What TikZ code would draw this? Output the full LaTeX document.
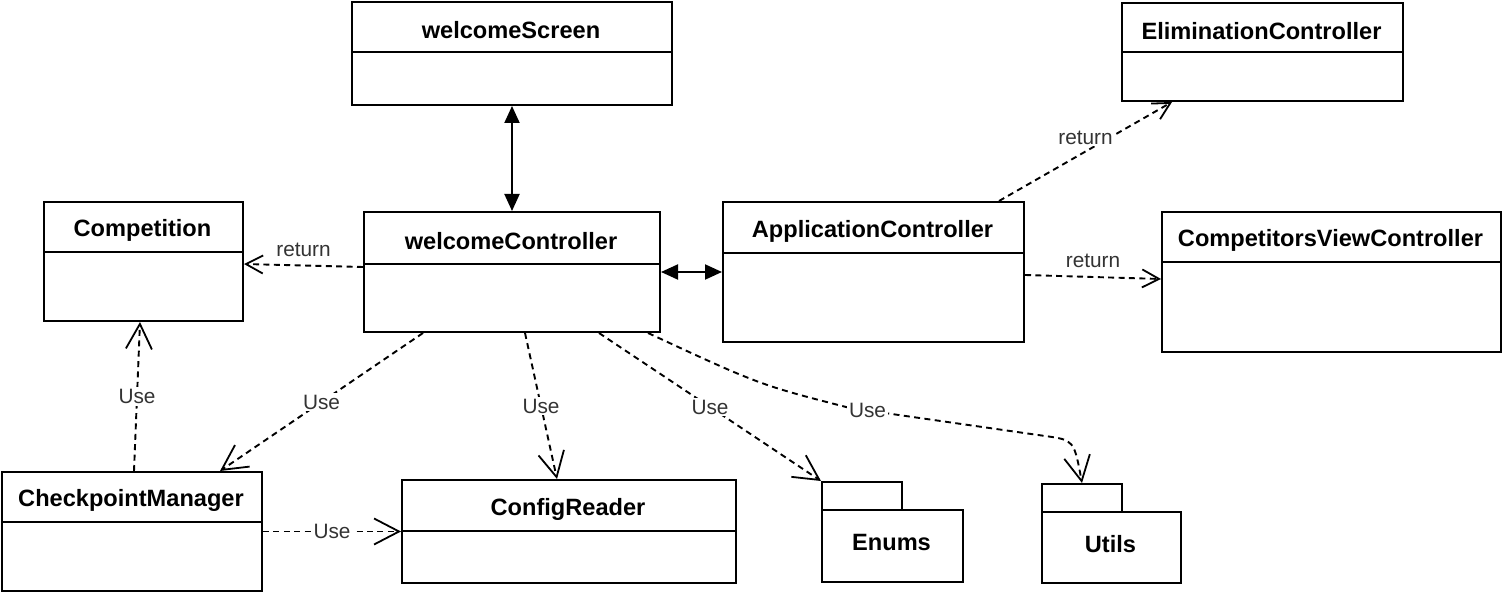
\documentclass[tikz,border=0pt]{standalone}
\usepackage{fontspec}
\setmainfont{Liberation Sans}
\usetikzlibrary{arrows.meta,calc}
\tikzset{
  box/.style={draw, line width=1pt, inner sep=0pt, anchor=north west},
  title/.style={font=\fontsize{11.8}{14}\selectfont\bfseries, inner sep=0pt},
  deplink/.style={dash pattern=on 3pt off 2.2pt, line width=0.95pt},
  retlink/.style={deplink, -{Straight Barb[length=8.5pt,width=9pt,line width=0.9pt]}},
  uselink/.style={deplink, -{Straight Barb[length=12.5pt,width=13pt,line width=0.9pt]}},
  assoc/.style={line width=1pt, {Triangle[length=8.5pt,width=7.5pt]}-{Triangle[length=8.5pt,width=7.5pt]}},
  lbl/.style={fill=white, inner sep=1pt, text=black!80, font=\fontsize{10.4}{12}\selectfont},
}
\newcommand\umlclass[7]{%
  \node[box, minimum width={(#4-#2)*0.5pt}, minimum height={(#5-#3)*0.5pt}] (#1) at (#2,#3) {};
  \draw[line width=1pt] (#2,#6) -- (#4,#6);
  \node[title] (#1t) at ({(#2+#4)/2},{(#3+#6)/2+4}) {#7};
}
\begin{document}
\begin{tikzpicture}[x=0.5pt,y=-0.5pt]
\useasboundingbox (0,0) rectangle (1502,592);
% classes
\umlclass{ws}{351}{1}{671}{104}{52}{welcomeScreen}
\umlclass{el}{1121}{2}{1402}{100}{52}{EliminationController}
\umlclass{comp}{43}{201}{242}{320}{252}{Competition}
\umlclass{wc}{363}{211}{659}{331}{264}{welcomeController}
\umlclass{ac}{722}{201}{1023}{341}{253}{ApplicationController}
\umlclass{cv}{1161}{211}{1500}{351}{262}{CompetitorsViewController}
\umlclass{cm}{1}{471}{261}{590}{522}{CheckpointManager}
\umlclass{cr}{401}{479}{735}{582}{531}{ConfigReader}
% packages
\node[box, minimum width=40pt, minimum height=14pt] (enumsTab) at (821,481) {};
\node[box, anchor=north west, minimum width=70.5pt, minimum height=36pt] (enums) at (821,509) {};
\node[title] (enumst) at (891.5,542) {Enums};
\node[box, minimum width=40pt, minimum height=14pt] (utilsTab) at (1041,483) {};
\node[box, anchor=north west, minimum width=69.5pt, minimum height=35.5pt] (utils) at (1041,511) {};
\node[title] (utilst) at (1110.5,544) {Utils};
% associations
\draw[assoc] (ws.south) -- (wc.north);
\draw[assoc] (wc.east) -- (ac.west);
% returns
\draw[retlink] ([yshift=2.5pt]wc.west) -- node[lbl, above=3pt, fill=none]{return} ([yshift=-1.25pt]comp.east);
\draw[retlink] ([xshift=62.75pt]ac.north) -- node[lbl, yshift=7pt]{return} ([xshift=-45.25pt]el.south);
\draw[retlink] ([yshift=-1.5pt]ac.east) -- node[lbl, above=3pt, fill=none]{return} ([yshift=1.5pt]cv.west);
% uses
\draw[uselink] ([xshift=30pt]wc.south west) -- node[lbl]{Use} ([xshift=109.5pt]cm.north west);
\draw[uselink] ([xshift=6.5pt]wc.south) -- node[lbl]{Use} ([xshift=-6pt]cr.north);
\draw[uselink] ([xshift=43.5pt]wc.south) -- node[lbl]{Use} (enumsTab.north west);
\draw[uselink] ([xshift=-6.5pt]wc.south east) .. controls (760,385) .. (850,408) -- node[lbl, pos=0.09]{Use} (1045,436) .. controls (1074,440) .. (utilsTab.north);
\draw[uselink] (cm.east) -- node[lbl]{Use} (cr.west);
\draw[uselink] ([xshift=1pt]cm.north) -- node[lbl]{Use} ([xshift=-1.75pt]comp.south);
\end{tikzpicture}
\end{document}
